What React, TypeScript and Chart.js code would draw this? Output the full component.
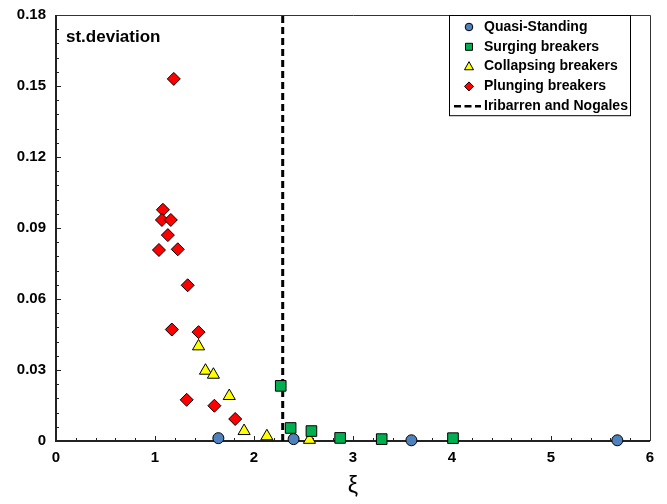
import { useEffect, useRef } from "react";
import { Chart, registerables } from "chart.js";

Chart.register(...registerables);

// Surf similarity parameter (x) against standard deviation (y), per breaker type
const quasiX = [1.64, 2.4, 3.59, 5.67];
const quasiY = [0.0012, 0.0008, 0.0003, 0.0003];

const surgingX = [2.27, 2.37, 2.58, 2.87, 3.29, 4.01];
const surgingY = [0.0233, 0.0055, 0.0042, 0.0013, 0.0008, 0.0012];

const collapsingX = [1.44, 1.51, 1.59, 1.75, 1.9, 2.13, 2.56];
const collapsingY = [0.04, 0.0297, 0.028, 0.019, 0.0042, 0.002, 0.0005];

const plungingX = [1.19, 1.08, 1.07, 1.16, 1.13, 1.04, 1.23, 1.33, 1.17, 1.44, 1.32, 1.6, 1.81];
const plungingY = [0.153, 0.0977, 0.0934, 0.0934, 0.087, 0.0807, 0.081, 0.0658, 0.0471, 0.046, 0.0174, 0.0149, 0.0093];

// Iribarren and Nogales threshold
const iribarrenX = 2.29;

const xTickLabels = ["0", "1", "2", "3", "4", "5", "6"];
const yTickLabels = ["0", "0.03", "0.06", "0.09", "0.12", "0.15", "0.18"];

const seriesLabels = [
  "Quasi-Standing",
  "Surging breakers",
  "Collapsing breakers",
  "Plunging breakers",
  "Iribarren and Nogales",
];

const FONT = "'Liberation Sans', Arial, sans-serif";

const toPoints = (xs: number[], ys: number[]) => xs.map((x, i) => ({ x, y: ys[i] }));

function drawMarker(ctx: CanvasRenderingContext2D, style: string, cx: number, cy: number, r: number, fill: string) {
  ctx.beginPath();
  if (style === "circle") {
    ctx.arc(cx, cy, r, 0, Math.PI * 2);
  } else if (style === "rect") {
    ctx.rect(cx - r, cy - r, 2 * r, 2 * r);
  } else if (style === "triangle") {
    ctx.moveTo(cx, cy - r * 1.1);
    ctx.lineTo(cx + r, cy + r * 0.7);
    ctx.lineTo(cx - r, cy + r * 0.7);
    ctx.closePath();
  } else {
    ctx.moveTo(cx, cy - r);
    ctx.lineTo(cx + r, cy);
    ctx.lineTo(cx, cy + r);
    ctx.lineTo(cx - r, cy);
    ctx.closePath();
  }
  ctx.fillStyle = fill;
  ctx.fill();
  ctx.strokeStyle = "#000";
  ctx.lineWidth = 1;
  ctx.stroke();
}

// Plot frame with inward major and minor ticks
const framePlugin = {
  id: "frame",
  beforeDatasetsDraw(chart: any) {
    const { ctx, chartArea: a, scales } = chart;
    const xs = scales.x;
    const ys = scales.y;
    ctx.save();
    ctx.strokeStyle = "#222";
    ctx.lineWidth = 1;
    ctx.beginPath();
    const xt = xs.ticks.map((t: any) => t.value);
    for (let i = 0; i < xt.length; i++) {
      const px = Math.round(xs.getPixelForValue(xt[i])) + 0.5;
      ctx.moveTo(px, a.bottom);
      ctx.lineTo(px, a.bottom - 5);
      if (i < xt.length - 1) {
        const step = (xt[i + 1] - xt[i]) / 5;
        for (let k = 1; k < 5; k++) {
          const mp = Math.round(xs.getPixelForValue(xt[i] + step * k)) + 0.5;
          ctx.moveTo(mp, a.bottom);
          ctx.lineTo(mp, a.bottom - 3);
        }
      }
    }
    const yt = ys.ticks.map((t: any) => t.value);
    for (let i = 0; i < yt.length; i++) {
      const py = Math.round(ys.getPixelForValue(yt[i])) + 0.5;
      ctx.moveTo(a.left, py);
      ctx.lineTo(a.left + 5, py);
      if (i < yt.length - 1) {
        const step = (yt[i + 1] - yt[i]) / 5;
        for (let k = 1; k < 5; k++) {
          const mp = Math.round(ys.getPixelForValue(yt[i] + step * k)) + 0.5;
          ctx.moveTo(a.left, mp);
          ctx.lineTo(a.left + 3, mp);
        }
      }
    }
    ctx.stroke();

    // top and right border
    ctx.strokeStyle = "#333";
    ctx.lineWidth = 1;
    ctx.beginPath();
    ctx.moveTo(a.left, Math.round(a.top) + 0.5);
    ctx.lineTo(a.right + 0.5, Math.round(a.top) + 0.5);
    ctx.lineTo(Math.round(a.right) + 0.5, a.bottom);
    ctx.stroke();

    // left and bottom axis lines
    ctx.strokeStyle = "#222";
    ctx.lineWidth = 2;
    ctx.beginPath();
    ctx.moveTo(a.left, a.top);
    ctx.lineTo(a.left, a.bottom);
    ctx.lineTo(a.right, a.bottom);
    ctx.stroke();

    ctx.fillStyle = "#000";
    ctx.font = `bold 17px ${FONT}`;
    ctx.textAlign = "left";
    ctx.textBaseline = "middle";
    ctx.fillText("st.deviation", a.left + 10, a.top + 22);
    ctx.restore();
  },
};

// Boxed legend in the upper right of the plot
const legendPlugin = {
  id: "boxLegend",
  afterDraw(chart: any) {
    const { ctx, chartArea: a } = chart;
    const right = a.right - 20;
    const left = right - 181;
    const top = Math.round(a.top);
    const rowH = 19.8;
    const ds = chart.data.datasets;
    const bottom = top + 12 + rowH * (ds.length - 1) + 9;
    ctx.save();
    ctx.fillStyle = "#fff";
    ctx.fillRect(left, top, right - left, bottom - top);
    ctx.strokeStyle = "#000";
    ctx.lineWidth = 1;
    ctx.strokeRect(left + 0.5, top + 0.5, right - left, bottom - top);
    ctx.font = `bold 14px ${FONT}`;
    ctx.textAlign = "left";
    ctx.textBaseline = "middle";
    ds.forEach((d: any, i: number) => {
      const cy = top + 12 + rowH * i;
      const mx = left + 20;
      if (d.type === "line") {
        ctx.strokeStyle = "#000";
        ctx.lineWidth = 2.5;
        ctx.setLineDash([7, 3.5]);
        ctx.beginPath();
        ctx.moveTo(left + 5, cy);
        ctx.lineTo(left + 32, cy);
        ctx.stroke();
        ctx.setLineDash([]);
      } else {
        const size = d.pointStyle === "rect" ? 3.5 : d.pointStyle === "circle" ? 3.8 : 4.5;
        drawMarker(ctx, d.pointStyle, mx, cy, size, d.backgroundColor);
      }
      ctx.fillStyle = "#000";
      ctx.fillText(d.label, left + 35, cy);
    });
    ctx.restore();
  },
};

export default function App() {
  const ref = useRef<HTMLCanvasElement | null>(null);

  useEffect(() => {
    if (!ref.current) return;
    const markerBase = {
      type: "scatter" as const,
      borderColor: "#000",
      borderWidth: 1,
      clip: false as any,
    };
    const chart = new Chart(ref.current, {
      type: "scatter",
      data: {
        datasets: [
          {
            ...markerBase,
            label: seriesLabels[0],
            data: toPoints(quasiX, quasiY),
            pointStyle: "circle",
            pointRadius: 5.5,
            backgroundColor: "#4f81bd",
          },
          {
            ...markerBase,
            label: seriesLabels[1],
            data: toPoints(surgingX, surgingY),
            pointStyle: "rect",
            pointRadius: 7.5,
            backgroundColor: "#00b050",
          },
          {
            ...markerBase,
            label: seriesLabels[2],
            data: toPoints(collapsingX, collapsingY),
            pointStyle: "triangle",
            pointRadius: 7,
            backgroundColor: "#ffff00",
          },
          {
            ...markerBase,
            label: seriesLabels[3],
            data: toPoints(plungingX, plungingY),
            pointStyle: "rectRot",
            pointRadius: 6.5,
            backgroundColor: "#ff0000",
          },
          {
            type: "line" as const,
            label: seriesLabels[4],
            data: [
              { x: iribarrenX, y: 0 },
              { x: iribarrenX, y: 0.18 },
            ],
            borderColor: "#000",
            borderWidth: 3,
            borderDash: [7, 4],
            pointRadius: 0,
            fill: false,
          } as any,
        ],
      },
      options: {
        animation: false,
        responsive: true,
        maintainAspectRatio: false,
        layout: { padding: { top: 15, right: 17, left: 0, bottom: 0 } },
        plugins: {
          legend: { display: false },
          tooltip: { enabled: false },
        },
        scales: {
          x: {
            type: "linear",
            min: 0,
            max: 6,
            grid: { display: false, drawTicks: false },
            border: { display: false },
            ticks: {
              stepSize: 1,
              padding: 8,
              color: "#000",
              font: { family: FONT, size: 15, weight: "bold" },
              callback: (_v: any, i: number) => xTickLabels[i],
            },
            title: {
              display: true,
              text: "ξ",
              color: "#000",
              font: { family: FONT, size: 23 },
              padding: { top: 0, bottom: 4 },
            },
            afterFit: (s: any) => {
              s.height = 63;
              s.paddingLeft = 0;
              s.paddingRight = 0;
            },
          },
          y: {
            type: "linear",
            min: 0,
            max: 0.18,
            grid: { display: false, drawTicks: false },
            border: { display: false },
            ticks: {
              stepSize: 0.03,
              padding: 10,
              color: "#000",
              font: { family: FONT, size: 15, weight: "bold" },
              callback: (_v: any, i: number) => yTickLabels[i],
            },
            afterFit: (s: any) => {
              s.width = 56;
              s.paddingTop = 0;
              s.paddingBottom = 0;
            },
          },
        },
      },
      plugins: [framePlugin, legendPlugin],
    });
    return () => chart.destroy();
  }, []);

  return (
    <div style={{ position: "absolute", left: 0, top: 0, width: 667, height: 504, background: "#fff" }}>
      <canvas ref={ref} />
    </div>
  );
}
